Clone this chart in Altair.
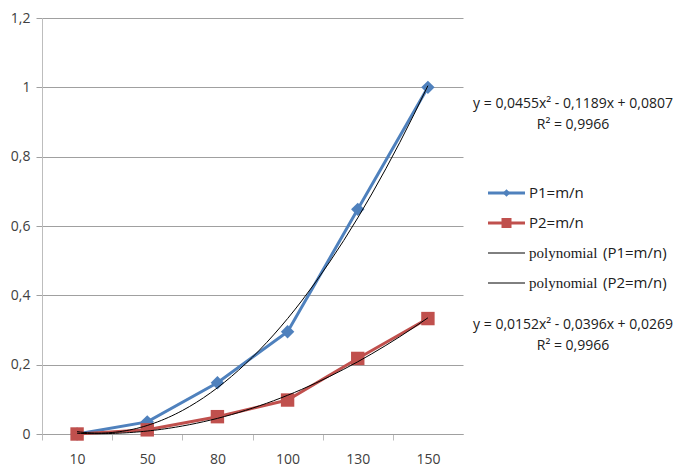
import altair as alt
import pandas as pd

# ---- data ----
x_index = [1, 2, 3, 4, 5, 6]
x_labels = ["10", "50", "80", "100", "130", "150"]
p1 = [0.0, 0.035, 0.148, 0.295, 0.648, 1.0]
p2 = [0.0, 0.012, 0.05, 0.098, 0.218, 0.333]

s1 = "P1=m/n"
s2 = "P2=m/n"
t1 = "polynomial (P1=m/n)"
t2 = "polynomial (P2=m/n)"

eq1 = ["y = 0,0455x² - 0,1189x + 0,0807", "R² = 0,9966"]
eq2 = ["y = 0,0152x² - 0,0396x + 0,0269", "R² = 0,9966"]

BLUE = "#4F81BD"
RED = "#C0504D"
FONT = "Open Sans"
SERIF = "Liberation Serif"

df = pd.DataFrame({
    "x": x_index * 2,
    "y": p1 + p2,
    "series": [s1] * len(p1) + [s2] * len(p2),
})

W, H = 421, 416
half_band = W / 6 / 2

label_expr = "[" + ",".join("'%s'" % l for l in x_labels) + "][datum.value - 1]"

x_enc = alt.X(
    "x:Q",
    scale=alt.Scale(domain=[0.5, 6.5], nice=False, zero=False),
    axis=alt.Axis(
        values=x_index, labelExpr=label_expr, title=None, grid=False,
        tickOffset=-half_band, labelOffset=half_band,
        tickSize=6, tickColor="#BDBDBD", domainColor="#A0A0A0",
        labelFont=FONT, labelFontSize=14, labelColor="#404040", labelPadding=12,
    ),
)
y_enc = alt.Y(
    "y:Q",
    scale=alt.Scale(domain=[0, 1.2], nice=False),
    axis=alt.Axis(
        values=[0, 0.2, 0.4, 0.6, 0.8, 1.0, 1.2],
        labelExpr="replace(format(datum.value, '.1~f'), '.', ',')",
        title=None, grid=True, gridColor="#A0A0A0", tickColor="#A0A0A0",
        tickSize=6, domainColor="#BDBDBD", labelPadding=6,
        labelFont=FONT, labelFontSize=14, labelColor="#404040",
    ),
)

color = alt.Color(
    "series:N",
    scale=alt.Scale(domain=[s1, s2, t1, t2], range=[BLUE, RED, "black", "black"]),
    legend=None,
)

lines = alt.Chart(df).mark_line(strokeWidth=3).encode(x=x_enc, y=y_enc, color=color, detail="series:N")

points = alt.Chart(df).mark_point(filled=True, opacity=1, size=180).encode(
    x=x_enc, y=y_enc, color=color,
    shape=alt.Shape("series:N", scale=alt.Scale(domain=[s1, s2], range=["diamond", "square"]), legend=None),
)

trend = alt.Chart(df).transform_regression(
    "x", "y", groupby=["series"], method="poly", order=2
).transform_calculate(
    series="'polynomial (' + datum.series + ')'"
).mark_line(strokeWidth=1).encode(x=x_enc, y=y_enc, color=color, detail="series:N")

one = alt.InlineData(values=[{}])

ann1 = alt.Chart(one).mark_text(
    text=eq1, align="center", baseline="top", font=FONT, fontSize=14,
    lineHeight=21, color="#202020",
).encode(x=alt.value(531), y=alt.value(79))

ann2 = alt.Chart(one).mark_text(
    text=eq2, align="center", baseline="top", font=FONT, fontSize=14,
    lineHeight=21, color="#202020",
).encode(x=alt.value(531), y=alt.value(300))

# ---- manual legend (line + marker symbols, mixed fonts as in the reference) ----
legend_layers = []
leg_entries = [
    (s1, BLUE, 3, "diamond", 55, None, s1),
    (s2, RED, 3, "square", 100, None, s2),
    (t1, "black", 1, None, 0, "polynomial", "(P1=m/n)"),
    (t2, "black", 1, None, 0, "polynomial", "(P2=m/n)"),
]
for i, (name, col, sw, shp, sz, word, tail) in enumerate(leg_entries):
    yy = 175 + 30 * i
    legend_layers.append(
        alt.Chart(one).mark_rule(color=col, strokeWidth=sw).encode(
            x=alt.value(446), x2=alt.value(483), y=alt.value(yy))
    )
    if shp:
        legend_layers.append(
            alt.Chart(one).mark_point(shape=shp, filled=True, opacity=1, color=col, size=sz).encode(
                x=alt.value(464.5), y=alt.value(yy))
        )
    if word:
        legend_layers.append(
            alt.Chart(one).mark_text(text=word, align="left", baseline="middle", font=SERIF,
                                     fontSize=15, color="#202020").encode(
                x=alt.value(487), y=alt.value(yy))
        )
        legend_layers.append(
            alt.Chart(one).mark_text(text=tail, align="left", baseline="middle", font=FONT,
                                     fontSize=15, color="#202020").encode(
                x=alt.value(561), y=alt.value(yy))
        )
    else:
        legend_layers.append(
            alt.Chart(one).mark_text(text=tail, align="left", baseline="middle", font=FONT,
                                     fontSize=15, color="#202020").encode(
                x=alt.value(487), y=alt.value(yy))
        )

chart = alt.layer(lines, points, trend, ann1, ann2, *legend_layers).properties(
    width=W, height=H,
    padding={"left": 2, "top": 3, "right": 0, "bottom": 0},
).configure_view(stroke=None)

chart.save("out.html", embed_options={"renderer": "svg", "actions": False})
